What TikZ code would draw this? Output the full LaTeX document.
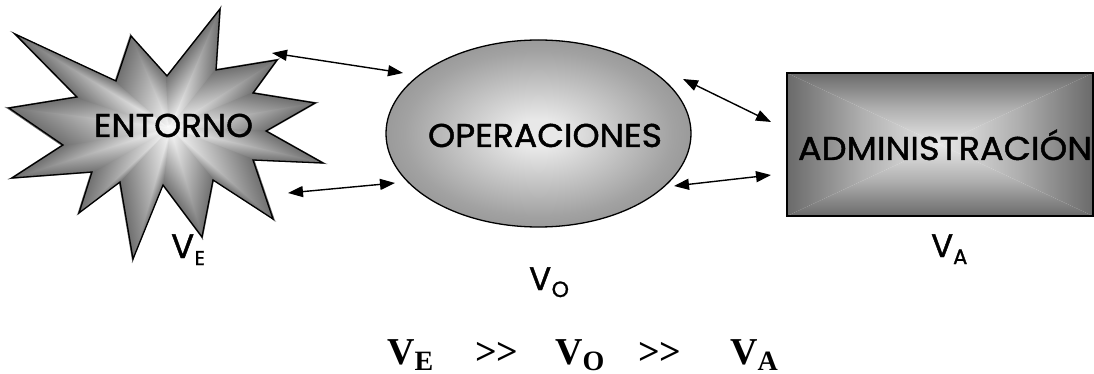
\documentclass[tikz,border=0pt]{standalone}
\usepackage{fontspec}
\usepackage{graphicx}
\setmainfont{Poppins}[FakeBold=1.3]
\newfontfamily\tnr{Liberation Serif}
\usetikzlibrary{arrows.meta}
\definecolor{edgeG}{HTML}{6A6A6A}
\definecolor{midG}{HTML}{B0B0B0}
\definecolor{lightG}{HTML}{E8E8E8}
\definecolor{starTip}{HTML}{6E6E6E}
\definecolor{starMid}{HTML}{ACACAC}
\definecolor{ellMid}{HTML}{A2A2A2}
\definecolor{ellEdge}{HTML}{5A5A5A}
\pgfdeclareradialshading{ellsh}{\pgfpoint{0bp}{0bp}}{color(0bp)=(lightG); color(4bp)=(lightG); color(22bp)=(ellMid); color(50bp)=(ellEdge); color(100bp)=(ellEdge)}
\newcommand\capfont[1]{\fontsize{#1}{#1}\selectfont}
\newcommand\stretchto[2]{\resizebox{#1}{\height}{#2}}
\begin{document}
\begin{tikzpicture}[x=1pt,y=-1pt,
  conn/.style={{Triangle[length=15pt,width=11pt]}-{Triangle[length=15pt,width=11pt]}, line width=1.4pt},
  boxtext/.style={inner sep=0pt, anchor=base, font=\capfont{33}},
  vlbl/.style={inner sep=0pt, anchor=base west},
  ineq/.style={inner sep=0pt, anchor=base west, font=\tnr\bfseries\fontsize{38}{38}\selectfont},
  outline/.style={draw=black, line width=1.3pt}]
\useasboundingbox (0,0) rectangle (1094,374);
% star: path gradient built from triangles
\def\cx{170}\def\cy{128}
\foreach \ax/\ay/\bx/\by in {9/108/77/97, 77/97/15/34, 15/34/116/81, 116/81/131/36, 131/36/167/76,
  167/76/220/9, 220/9/216/70, 216/70/277/60, 277/60/253/93, 253/93/315/103, 315/103/266/131,
  266/131/323/163, 323/163/253/160, 253/160/273/219, 273/219/213/180, 213/180/202/237,
  202/237/163/185, 163/185/133/259, 133/259/120/182, 120/182/79/213, 79/213/92/172,
  92/172/12/178, 12/178/63/145, 63/145/9/108} {
  \pgfmathsetmacro\ma{\bx-\ax}
  \pgfmathsetmacro\mb{-(\by-\ay)}
  \pgfmathsetmacro\mc{\cx-\ax}
  \pgfmathsetmacro\md{-(\cy-\ay)}
  \begin{scope}[transform canvas={cm={\ma,\mb,\mc,\md,(\ax,\ay)}}]
    \shade[top color=white, middle color=starMid, bottom color=starTip]
      (-0.02pt,-0.02pt) -- (1.04pt,-0.02pt) -- (-0.02pt,1.04pt) -- cycle;
  \end{scope}
}
\draw[outline, line join=miter]
  (9,108) -- (77,97) -- (15,34) -- (116,81) -- (131,36) -- (167,76) -- (220,9) -- (216,70)
  -- (277,60) -- (253,93) -- (315,103) -- (266,131) -- (323,163) -- (253,160) -- (273,219)
  -- (213,180) -- (202,237) -- (163,185) -- (133,259) -- (120,182) -- (79,213) -- (92,172)
  -- (12,178) -- (63,145) -- cycle;
\node[boxtext] (entorno) at (173.5,137) {\stretchto{159pt}{ENTORNO}};
% ellipse
\shadedraw[shading=ellsh, outline] (538.5,133.5) ellipse [x radius=152.5, y radius=93.5];
\node[boxtext] (oper) at (545,147) {\stretchto{234pt}{OPERACIONES}};
% rectangle with box gradient
\coordinate (rc) at (940,144.5);
\shade[top color=edgeG, bottom color=lightG, middle color=midG] (787,73) -- (1093,73) -- (rc) -- cycle;
\shade[bottom color=edgeG, top color=lightG, middle color=midG] (787,216) -- (1093,216) -- (rc) -- cycle;
\shade[left color=edgeG, right color=lightG, middle color=midG] (787,73) -- (787,216) -- (rc) -- cycle;
\shade[right color=edgeG, left color=lightG, middle color=midG] (1093,73) -- (1093,216) -- (rc) -- cycle;
\draw[outline] (787,73) rectangle (1093,216);
\node[boxtext] (adm) at (945,160) {\stretchto{294pt}{ADMINISTRACIÓN}};
% arrows
\coordinate (a1s) at (272,53); \coordinate (a1e) at (403,73);
\coordinate (a2s) at (288,193); \coordinate (a2e) at (395,183);
\coordinate (a3s) at (683,79); \coordinate (a3e) at (771,122);
\coordinate (a4s) at (674,186); \coordinate (a4e) at (771,175);
\draw[conn] (a1s) -- (a1e);
\draw[conn] (a2s) -- (a2e);
\draw[conn] (a3s) -- (a3e);
\draw[conn] (a4s) -- (a4e);
% labels
\node[vlbl] (ve) at (171,258) {\capfont{34}V\kern0.5pt\raisebox{-7pt}{\capfont{20}E}};
\node[vlbl] (vo) at (529,290) {\capfont{32.5}V\kern0.5pt\raisebox{-7pt}{\capfont{22}O}};
\node[vlbl] (va) at (931,257) {\capfont{32.5}V\raisebox{-7pt}{\capfont{21}A}};
% inequality
\node[ineq] (i1) at (387,364) {V\raisebox{-6pt}{\fontsize{28}{28}\selectfont E}};
\node[ineq] (g1) at (475,364) {>>};
\node[ineq] (i2) at (555,364) {V\raisebox{-6pt}{\fontsize{28}{28}\selectfont O}};
\node[ineq] (g2) at (638,364) {>>};
\node[ineq] (i3) at (730,364) {V\raisebox{-6pt}{\fontsize{28}{28}\selectfont A}};
\end{tikzpicture}
\end{document}
